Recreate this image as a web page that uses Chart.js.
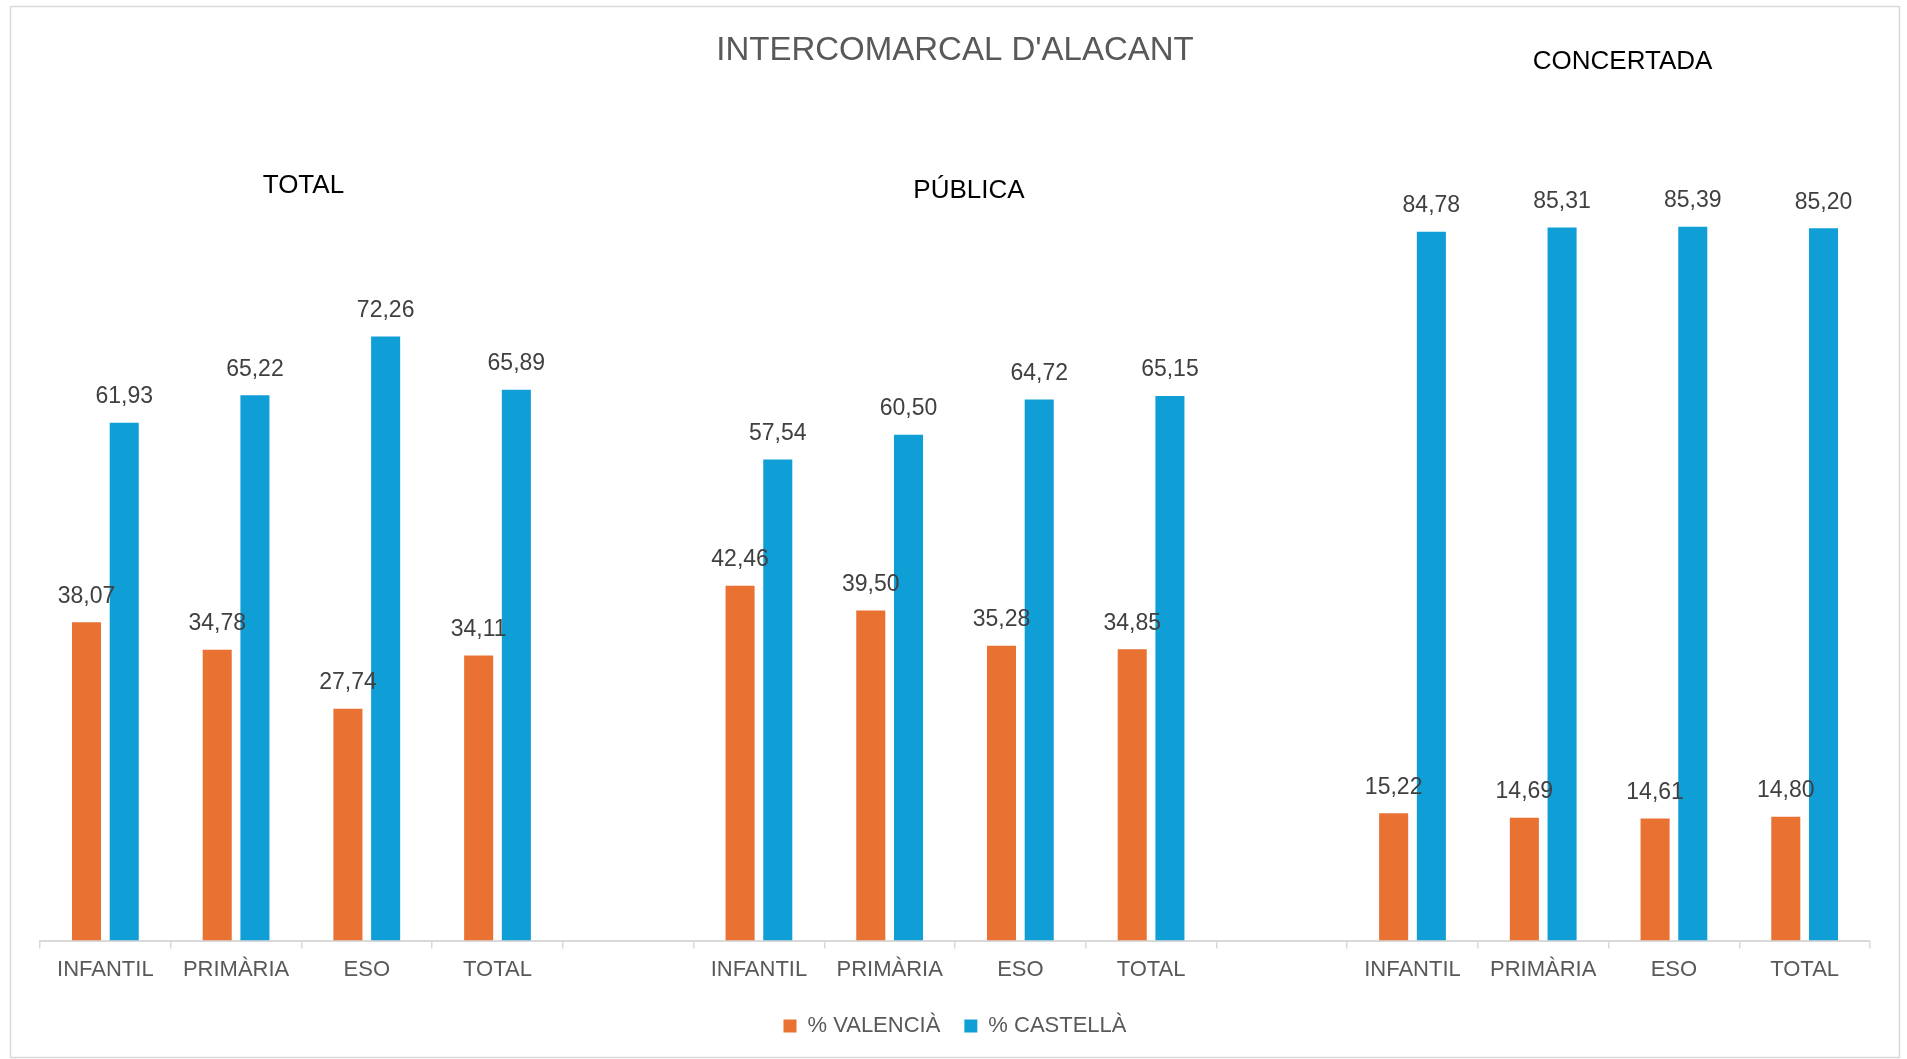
<!DOCTYPE html>
<html>
<head>
<meta charset="utf-8">
<script src="https://cdn.jsdelivr.net/npm/chart.js@4.4.1/dist/chart.umd.min.js"></script>
<style>
  html, body { margin: 0; padding: 0; background: #ffffff; }
  #wrap { position: absolute; left: 0; top: 0; width: 1907px; height: 1059px; }
</style>
</head>
<body>
<div id="wrap"><canvas id="chart"></canvas></div>
<script>
// categories (empty slots separate the three groups)
const categories = [
  "INFANTIL", "PRIMÀRIA", "ESO", "TOTAL", "",
  "INFANTIL", "PRIMÀRIA", "ESO", "TOTAL", "",
  "INFANTIL", "PRIMÀRIA", "ESO", "TOTAL"
];

const valencia = [
  38.07, 34.78, 27.74, 34.11, null,
  42.46, 39.50, 35.28, 34.85, null,
  15.22, 14.69, 14.61, 14.80
];

const castella = [
  61.93, 65.22, 72.26, 65.89, null,
  57.54, 60.50, 64.72, 65.15, null,
  84.78, 85.31, 85.39, 85.20
];

const groupTitles = ["TOTAL", "PÚBLICA", "CONCERTADA"];
const groupFirstIndex = [0, 5, 10];

const FONT = "'Liberation Sans', Arial, sans-serif";

// light frame around the whole chart, like the spreadsheet chart area
const framePlugin = {
  id: "frame",
  beforeDraw(chart) {
    const ctx = chart.ctx;
    ctx.save();
    ctx.fillStyle = "#ffffff";
    ctx.fillRect(0, 0, chart.width, chart.height);
    ctx.strokeStyle = "#d9d9d9";
    ctx.lineWidth = 1.5;
    ctx.strokeRect(10.5, 6.5, 1889, 1051);
    ctx.restore();
  }
};

// value labels above each bar, decimal comma
const valueLabels = {
  id: "valueLabels",
  afterDatasetsDraw(chart) {
    const ctx = chart.ctx;
    ctx.save();
    ctx.font = "23px " + FONT;
    ctx.fillStyle = "#404040";
    ctx.textAlign = "center";
    ctx.textBaseline = "middle";
    chart.data.datasets.forEach((ds, i) => {
      chart.getDatasetMeta(i).data.forEach((bar, j) => {
        const v = ds.data[j];
        if (v === null) return;
        ctx.fillText(v.toFixed(2).replace(".", ","), bar.x, bar.y - 26);
      });
    });
    ctx.restore();
  }
};

// group headings TOTAL / PÚBLICA / CONCERTADA
const groupHeadings = {
  id: "groupHeadings",
  afterDraw(chart) {
    const ctx = chart.ctx;
    const x = chart.scales.x;
    const yPos = [186, 191, 62];
    const dx = [2, 14, 14];
    ctx.save();
    ctx.font = "26px " + FONT;
    ctx.fillStyle = "#000000";
    ctx.textAlign = "center";
    ctx.textBaseline = "middle";
    groupTitles.forEach((t, i) => {
      const a = groupFirstIndex[i];
      const cx = (x.getPixelForValue(a + 1) + x.getPixelForValue(a + 2)) / 2;
      ctx.fillText(t, cx + dx[i], yPos[i]);
    });
    ctx.restore();
  }
};

new Chart(document.getElementById("chart"), {
  type: "bar",
  data: {
    labels: categories,
    datasets: [
      {
        label: "% VALENCIÀ",
        data: valencia,
        backgroundColor: "#E97132",
        categoryPercentage: 0.577,
        barPercentage: 0.77
      },
      {
        label: "% CASTELLÀ",
        data: castella,
        backgroundColor: "#0F9ED5",
        categoryPercentage: 0.577,
        barPercentage: 0.77
      }
    ]
  },
  options: {
    responsive: true,
    maintainAspectRatio: false,
    animation: false,
    layout: {
      padding: { left: 40, right: 37, top: 0, bottom: 12 }
    },
    scales: {
      y: {
        display: false,
        min: 0,
        max: 100
      },
      x: {
        grid: {
          display: true,
          offset: true,
          drawOnChartArea: false,
          drawTicks: true,
          tickLength: 8,
          color: "#d9d9d9",
          lineWidth: 1.5
        },
        border: { display: true, color: "#d9d9d9", width: 2 },
        ticks: {
          color: "#595959",
          font: { family: FONT, size: 22 },
          padding: 8,
          maxRotation: 0,
          autoSkip: false
        }
      }
    },
    plugins: {
      title: {
        display: true,
        text: "INTERCOMARCAL D'ALACANT",
        color: "#595959",
        font: { family: FONT, size: 33, weight: "normal" },
        padding: { top: 31, bottom: 34 }
      },
      legend: {
        position: "bottom",
        labels: {
          color: "#595959",
          font: { family: FONT, size: 22 },
          boxWidth: 13,
          boxHeight: 13,
          padding: 24
        }
      },
      tooltip: { enabled: false }
    }
  },
  plugins: [framePlugin, valueLabels, groupHeadings]
});
</script>
</body>
</html>
